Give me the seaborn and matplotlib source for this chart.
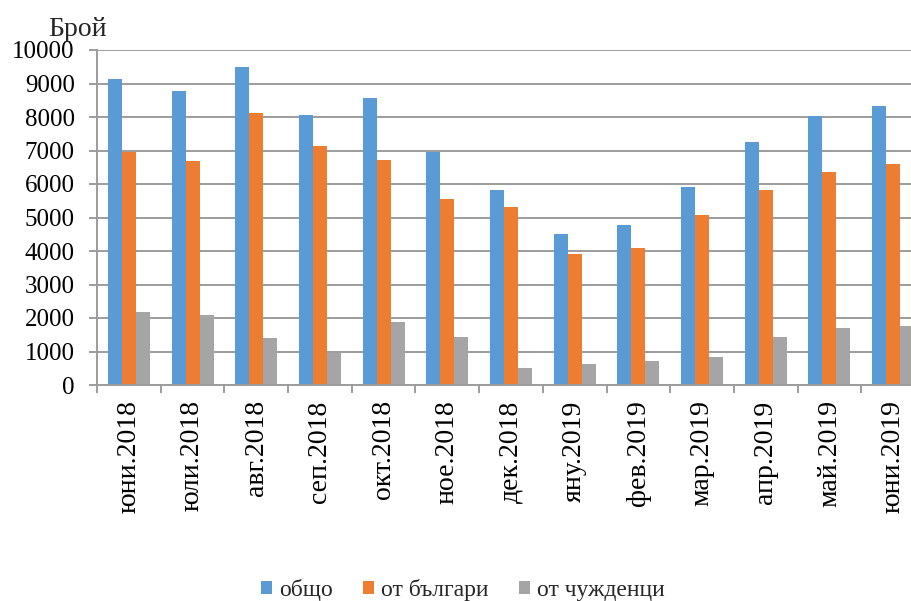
import matplotlib
matplotlib.use('Agg')

import seaborn as sns
import pandas as pd
import matplotlib.pyplot as plt
from matplotlib.ticker import FixedLocator, MultipleLocator

# --- data ---
months = ['юни.2018', 'юли.2018', 'авг.2018', 'сеп.2018', 'окт.2018', 'ное.2018',
          'дек.2018', 'яну.2019', 'фев.2019', 'мар.2019', 'апр.2019', 'май.2019',
          'юни.2019']
series_names = ['общо', 'от българи', 'от чужденци']
total = [9130, 8780, 9500, 8050, 8570, 6960, 5830, 4510, 4780, 5910, 7250, 8030, 8330]
bulgarians = [6960, 6680, 8120, 7120, 6720, 5550, 5310, 3900, 4100, 5060, 5830, 6360, 6600]
foreigners = [2190, 2080, 1400, 950, 1880, 1440, 510, 630, 720, 830, 1440, 1710, 1750]
colors = ['#5B9BD5', '#ED7D31', '#A5A5A5']

sns.set_theme(style="white")
plt.rcParams['font.family'] = ['Liberation Serif', 'DejaVu Serif']

df = pd.DataFrame({
    'Месец': months * 3,
    'Серия': [s for s in series_names for _ in months],
    'Брой': total + bulgarians + foreigners,
})

fig = plt.figure(figsize=(9.11, 6.01), dpi=100)
ax = fig.add_axes([97 / 911, 216 / 601, 828 / 911, 335 / 601])

sns.barplot(data=df, x='Месец', y='Брой', hue='Серия', order=months,
            hue_order=series_names, palette=colors, saturation=1,
            width=0.66, linewidth=0, ax=ax)

grid_color = '#9c9c9c'
ax.set_ylim(0, 10000)
ax.set_xlim(-0.5, len(months) - 0.5)
ax.yaxis.set_major_locator(MultipleLocator(1000))
ax.grid(axis='y', color=grid_color, linewidth=1.4)
ax.set_axisbelow(True)

for side in ['top', 'right']:
    ax.spines[side].set_visible(False)
for side in ['left', 'bottom']:
    ax.spines[side].set_color(grid_color)
    ax.spines[side].set_linewidth(1.4)

ax.tick_params(axis='y', which='major', left=True, length=6, width=1.4,
               color=grid_color, labelsize=18, pad=10, labelcolor='black')
ax.tick_params(axis='x', which='major', length=0, labelsize=20, pad=11,
               labelcolor='black')
ax.xaxis.set_minor_locator(FixedLocator([i - 0.5 for i in range(len(months) + 1)]))
ax.tick_params(axis='x', which='minor', bottom=True, length=6, width=1.4,
               color=grid_color)
for lbl in ax.get_xticklabels():
    lbl.set_rotation(90)

ax.set_xlabel('')
ax.set_ylabel('')
fig.text(48 / 911, 1 - 29 / 601, 'Брой', fontsize=20, ha='left', va='center')

ax.legend(title=None, loc='center', bbox_to_anchor=(0.508, 0.018),
          bbox_transform=fig.transFigure, ncol=3, frameon=False, fontsize=17,
          handlelength=0.45, handleheight=0.45, handletextpad=0.3,
          columnspacing=1.3)

plt.savefig('out.png', dpi=100)
plt.close()
